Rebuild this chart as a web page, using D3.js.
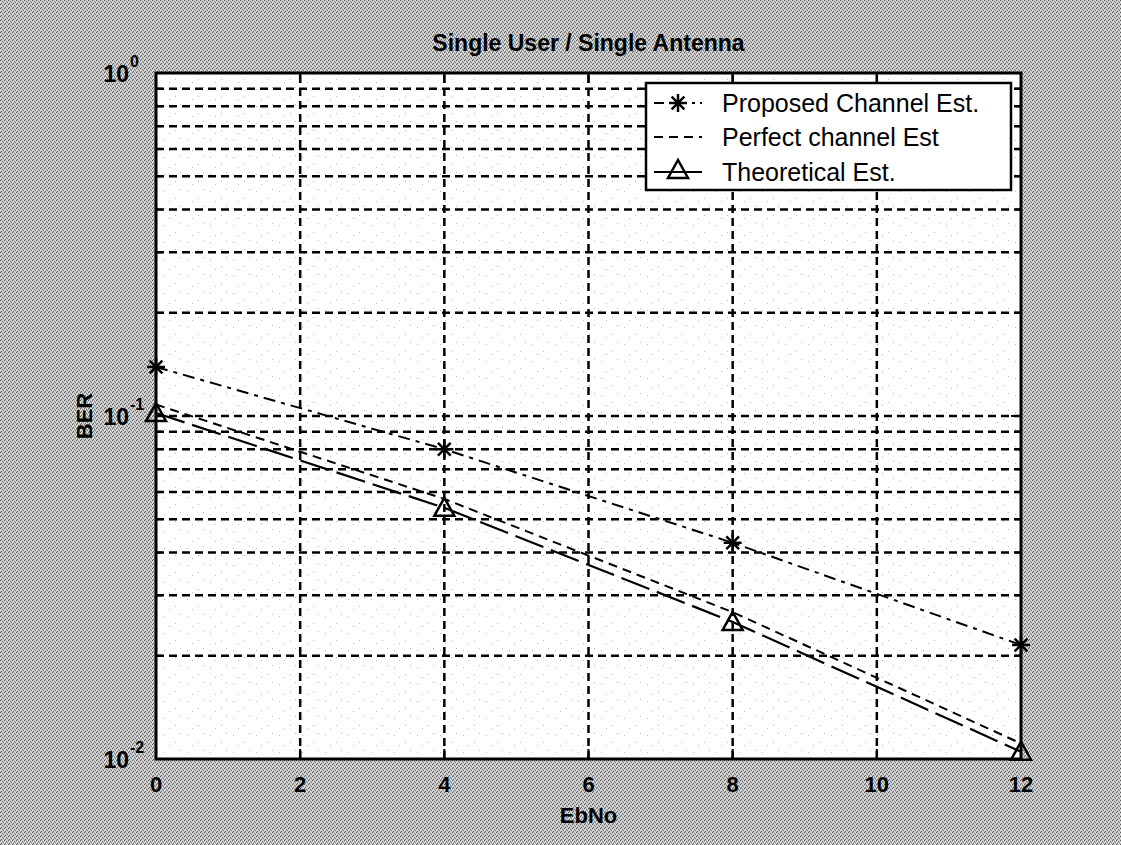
<!DOCTYPE html>
<html lang="en">

<head>
    <meta charset="UTF-8">
    <title>Single User / Single Antenna</title>
    <script src="https://d3js.org/d3.v7.min.js"></script>
    <style>
        body {
            margin: 0;
            background: #bcbcbc;
        }

        svg text {
            font-family: "Liberation Sans", Arial, sans-serif;
            fill: #000;
        }

        .grid {
            stroke: #000;
            stroke-width: 2.5;
            stroke-dasharray: 8, 5;
            fill: none;
        }

        .line {
            fill: none;
            stroke: #000;
        }
    </style>
</head>

<body>
    <div id="chart"></div>
    <script>
        // Data
        const ebno = [0, 4, 8, 12];
        const proposedBer = [0.139, 0.080, 0.0427, 0.0215];
        const perfectBer = [0.108, 0.0573, 0.0268, 0.0111];
        const theoreticalBer = [0.102, 0.054, 0.0251, 0.0105];

        const xTicks = [0, 2, 4, 6, 8, 10, 12];
        const yDecades = [0.01, 0.1, 1];
        const yExponents = ["-2", "-1", "0"];
        const legendNames = ["Proposed Channel Est.", "Perfect channel Est", "Theoretical Est."];

        const width = 1121,
            height = 845;
        const margin = {
            top: 73,
            right: 100,
            bottom: 86,
            left: 156
        };

        const svg = d3.select("#chart")
            .append("svg")
            .attr("width", width)
            .attr("height", height);

        // halftone-like grey background
        const defs = svg.append("defs");
        const pat = defs.append("pattern")
            .attr("id", "halftone")
            .attr("width", 4)
            .attr("height", 4)
            .attr("patternUnits", "userSpaceOnUse");
        pat.append("rect").attr("width", 4).attr("height", 4).attr("fill", "#bdbdbd");
        [[0, 0, "#5e5e5e"], [2, 1, "#7a7a7a"], [1, 3, "#6a6a6a"], [3, 2, "#808080"],
            [1, 1, "#ececec"], [3, 0, "#e4e4e4"], [0, 2, "#f0f0f0"], [2, 3, "#e0e0e0"]
        ].forEach(p => {
            pat.append("rect").attr("x", p[0]).attr("y", p[1])
                .attr("width", 1).attr("height", 1).attr("fill", p[2]);
        });
        svg.append("rect")
            .attr("width", width)
            .attr("height", height)
            .attr("fill", "url(#halftone)")
            .attr("shape-rendering", "crispEdges");

        // faint scan dots inside the white axes
        const dots = defs.append("pattern")
            .attr("id", "specks")
            .attr("width", 23)
            .attr("height", 17)
            .attr("patternUnits", "userSpaceOnUse");
        dots.append("rect").attr("width", 23).attr("height", 17).attr("fill", "#fff");
        [[3, 4], [14, 11], [19, 2], [8, 14]].forEach(p => {
            dots.append("rect").attr("x", p[0]).attr("y", p[1])
                .attr("width", 1).attr("height", 1).attr("fill", "#b8b8b8");
        });

        const x = d3.scaleLinear()
            .domain([0, 12])
            .range([margin.left, width - margin.right]);

        const y = d3.scaleLog()
            .domain([0.01, 1])
            .range([height - margin.bottom, margin.top]);

        const x0 = x.range()[0],
            x1 = x.range()[1];
        const y0 = y.range()[0],
            y1 = y.range()[1];

        // white plot area
        svg.append("rect")
            .attr("x", x0)
            .attr("y", y1)
            .attr("width", x1 - x0)
            .attr("height", y0 - y1)
            .attr("fill", "url(#specks)");

        // y values for horizontal grid (major + minor decades)
        const yGrid = [];
        yDecades.slice(0, 2).forEach(d => {
            for (let k = 1; k <= 9; k++) yGrid.push(d * k);
        });
        const yInner = yGrid.filter(v => v > 0.0100001);

        svg.append("g")
            .selectAll("line")
            .data(yInner)
            .enter().append("line")
            .attr("class", "grid")
            .attr("x1", x0)
            .attr("x2", x1)
            .attr("y1", d => y(d))
            .attr("y2", d => y(d));

        svg.append("g")
            .selectAll("line")
            .data(xTicks.slice(1, -1))
            .enter().append("line")
            .attr("class", "grid")
            .attr("x1", d => x(d))
            .attr("x2", d => x(d))
            .attr("y1", y0)
            .attr("y2", y1);

        // ticks pointing inward on all four sides
        const ticks = svg.append("g").attr("stroke", "#000").attr("stroke-width", 2);
        xTicks.forEach(t => {
            ticks.append("line").attr("x1", x(t)).attr("x2", x(t)).attr("y1", y0).attr("y2", y0 - 10);
            ticks.append("line").attr("x1", x(t)).attr("x2", x(t)).attr("y1", y1).attr("y2", y1 + 10);
        });
        yGrid.concat([1]).forEach(v => {
            const len = yDecades.includes(v) ? 10 : 6;
            ticks.append("line").attr("x1", x0).attr("x2", x0 + len).attr("y1", y(v)).attr("y2", y(v));
            ticks.append("line").attr("x1", x1).attr("x2", x1 - len).attr("y1", y(v)).attr("y2", y(v));
        });

        // series lines
        const line = vals => d3.line()
            .x((d, i) => x(ebno[i]))
            .y(d => y(d))(vals);

        svg.append("path")
            .attr("class", "line")
            .attr("d", line(theoreticalBer))
            .attr("stroke-width", 2.2)
            .attr("stroke-dasharray", "30,8");

        svg.append("path")
            .attr("class", "line")
            .attr("d", line(perfectBer))
            .attr("stroke-width", 2)
            .attr("stroke-dasharray", "9,6");

        svg.append("path")
            .attr("class", "line")
            .attr("d", line(proposedBer))
            .attr("stroke-width", 2)
            .attr("stroke-dasharray", "12,6,4,6");

        // markers
        function star(g, cx, cy, r) {
            [0, 45, 90, 135].forEach(a => {
                const rad = a * Math.PI / 180;
                g.append("line")
                    .attr("x1", cx - r * Math.cos(rad)).attr("y1", cy - r * Math.sin(rad))
                    .attr("x2", cx + r * Math.cos(rad)).attr("y2", cy + r * Math.sin(rad))
                    .attr("stroke", "#000").attr("stroke-width", 2.5);
            });
        }

        function triangle(g, cx, cy, r) {
            g.append("path")
                .attr("d", `M${cx},${cy - r}L${cx + r},${cy + r * 0.8}L${cx - r},${cy + r * 0.8}Z`)
                .attr("fill", "none")
                .attr("stroke", "#000")
                .attr("stroke-width", 2.5);
        }

        const marks = svg.append("g");
        ebno.forEach((e, i) => {
            star(marks, x(e), y(proposedBer[i]), 9);
            triangle(marks, x(e), y(theoreticalBer[i]), 10);
        });

        // axes box
        svg.append("rect")
            .attr("x", x0)
            .attr("y", y1)
            .attr("width", x1 - x0)
            .attr("height", y0 - y1)
            .attr("fill", "none")
            .attr("stroke", "#000")
            .attr("stroke-width", 3);

        // x tick labels
        svg.append("g")
            .selectAll("text")
            .data(xTicks)
            .enter().append("text")
            .attr("x", d => x(d))
            .attr("y", y0 + 33)
            .attr("text-anchor", "middle")
            .attr("font-size", 22)
            .attr("font-weight", "bold")
            .text(d => d);

        // y tick labels as 10^n
        yDecades.forEach((d, i) => {
            svg.append("text")
                .attr("x", x0 - 27)
                .attr("y", y(d) + 9)
                .attr("text-anchor", "end")
                .attr("font-size", 23)
                .attr("font-weight", "bold")
                .text("10");
            svg.append("text")
                .attr("x", x0 - 26)
                .attr("y", y(d) - 6)
                .attr("font-size", 16)
                .attr("font-weight", "bold")
                .text(yExponents[i]);
        });

        // title and axis labels
        svg.append("text")
            .attr("x", (x0 + x1) / 2)
            .attr("y", 51)
            .attr("text-anchor", "middle")
            .attr("font-size", 23)
            .attr("font-weight", "bold")
            .text("Single User / Single Antenna");

        svg.append("text")
            .attr("x", (x0 + x1) / 2)
            .attr("y", 823)
            .attr("text-anchor", "middle")
            .attr("font-size", 22)
            .attr("font-weight", "bold")
            .text("EbNo");

        svg.append("text")
            .attr("transform", `translate(92,${(y0 + y1) / 2}) rotate(-90)`)
            .attr("text-anchor", "middle")
            .attr("font-size", 22)
            .attr("font-weight", "bold")
            .text("BER");

        // legend
        const legend = svg.append("g");
        legend.append("rect")
            .attr("x", 646)
            .attr("y", 83)
            .attr("width", 365)
            .attr("height", 107)
            .attr("fill", "#fff")
            .attr("stroke", "#000")
            .attr("stroke-width", 2.5);

        const rowY = [103, 137, 172];
        const dashes = ["10,5,3,5", "9,6", null];
        legendNames.forEach((name, i) => {
            const l = legend.append("line")
                .attr("x1", 654)
                .attr("x2", 702)
                .attr("y1", rowY[i])
                .attr("y2", rowY[i])
                .attr("stroke", "#000")
                .attr("stroke-width", 2);
            if (dashes[i]) l.attr("stroke-dasharray", dashes[i]);
            legend.append("text")
                .attr("x", 722)
                .attr("y", rowY[i] + 9)
                .attr("font-size", 25)
                .text(name);
        });
        star(legend, 678, rowY[0], 9);
        triangle(legend, 678, rowY[2] - 2, 10);
    </script>
</body>

</html>
